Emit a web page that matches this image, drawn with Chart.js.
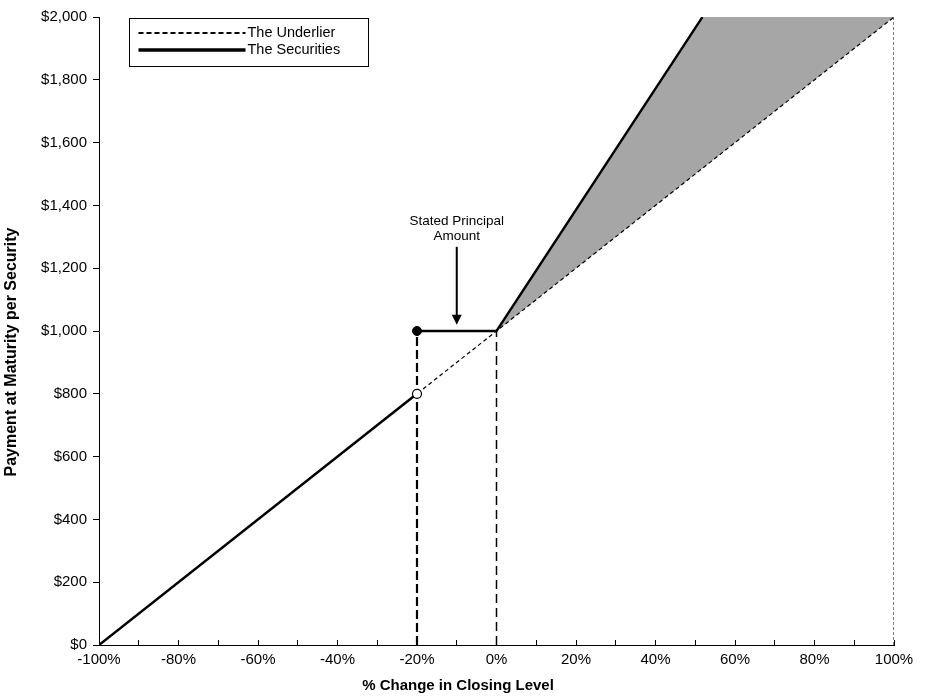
<!DOCTYPE html>
<html>
<head>
<meta charset="utf-8">
<script src="https://cdn.jsdelivr.net/npm/chart.js@4.4.1/dist/chart.umd.min.js"></script>
<style>
  html, body { margin: 0; padding: 0; background: #fff; }
  #wrap { width: 926px; height: 698px; position: relative; }
</style>
</head>
<body>
<div id="wrap"><canvas id="payoff"></canvas></div>
<script>
// payment at maturity vs % change in the underlier
const underlierX = [-100, 100];
const underlierY = [0, 2000];
const securitiesDownX = [-100, -20];
const securitiesDownY = [0, 800];
const securitiesUpX = [-20, 0, 51.8];
const securitiesUpY = [1000, 1000, 2000];
const gainTopX = [0, 51.8, 100];
const gainTopY = [1000, 2000, 2000];
const closedDot = [-20, 1000];
const openDot = [-20, 800];
const dropX = [-20, 0, 100];
const dropTop = [1000, 1000, 2000];
const noteLines = ['Stated Principal', 'Amount'];
const noteX = -10;
const noteY = [1350, 1303];
const arrowY = [1268, 1020];
const xLabelEvery = 20;
const xTickStep = 10;
const yTickStep = 200;

const FONT = '"Liberation Sans", Arial, sans-serif';
const pts = (xs, ys) => xs.map((x, i) => ({ x: x, y: ys[i] }));

const dropStyles = [
  { w: 2.2, dash: [9, 4] },
  { w: 1.5, dash: [9, 5] },
  { w: 1, dash: [3, 2] }
];

const datasets = [
  { label: 'closed', data: [{ x: closedDot[0], y: closedDot[1] }], showLine: false,
    pointRadius: 4.5, pointBackgroundColor: '#000', pointBorderColor: '#000', pointBorderWidth: 1 },
  { label: 'open', data: [{ x: openDot[0], y: openDot[1] }], showLine: false,
    pointRadius: 4.5, pointBackgroundColor: '#fff', pointBorderColor: '#000', pointBorderWidth: 1.2 },
  { label: 'The Securities', data: pts(securitiesDownX, securitiesDownY), showLine: true,
    borderColor: '#000', borderWidth: 2.5, pointRadius: 0 },
  { label: 'securities up', data: pts(securitiesUpX, securitiesUpY), showLine: true,
    borderColor: '#000', borderWidth: 2.3, pointRadius: 0 },
  { label: 'The Underlier', data: pts(underlierX, underlierY), showLine: true,
    borderColor: '#000', borderWidth: 1.2, borderDash: [4, 3], pointRadius: 0 }
];

dropX.forEach((x, i) => {
  datasets.push({ label: 'drop', data: pts([x, x], [0, dropTop[i]]), showLine: true,
    borderColor: '#000', borderWidth: dropStyles[i].w, borderDash: dropStyles[i].dash, pointRadius: 0 });
});

// grey wedge between the securities and the underlier (dataset 4)
datasets.push({ label: 'gain', data: pts(gainTopX, gainTopY), showLine: true,
  borderColor: 'rgba(0,0,0,0)', backgroundColor: '#a6a6a6', fill: 4, pointRadius: 0 });

const extras = {
  id: 'extras',
  afterDraw(chart) {
    const ctx = chart.ctx;
    const a = chart.chartArea;
    const xs = chart.scales.x, ys = chart.scales.y;
    ctx.save();
    ctx.fillStyle = '#000';
    ctx.strokeStyle = '#000';

    // note + arrow
    const nx = xs.getPixelForValue(noteX);
    ctx.font = '13.5px ' + FONT;
    ctx.textAlign = 'center';
    ctx.textBaseline = 'middle';
    noteLines.forEach((t, i) => ctx.fillText(t, nx, ys.getPixelForValue(noteY[i])));
    const top = ys.getPixelForValue(arrowY[0]);
    const tip = ys.getPixelForValue(arrowY[1]);
    ctx.lineWidth = 2;
    ctx.beginPath();
    ctx.moveTo(nx, top);
    ctx.lineTo(nx, tip - 9);
    ctx.stroke();
    ctx.beginPath();
    ctx.moveTo(nx - 5, tip - 10);
    ctx.lineTo(nx + 5, tip - 10);
    ctx.lineTo(nx, tip);
    ctx.closePath();
    ctx.fill();

    // legend box
    const bx = a.left + 30.5, by = a.top + 1.5, bw = 239, bh = 48;
    ctx.lineWidth = 1;
    ctx.setLineDash([]);
    ctx.strokeRect(bx, by, bw, bh);
    const items = [chart.data.datasets[4], chart.data.datasets[2]];
    ctx.font = '14.5px ' + FONT;
    ctx.textAlign = 'left';
    items.forEach((d, i) => {
      const y = by + 14.5 + i * 17;
      ctx.lineWidth = i === 0 ? 2 : 3.5;
      ctx.setLineDash(i === 0 ? [5, 3] : []);
      ctx.beginPath();
      ctx.moveTo(bx + 9, y);
      ctx.lineTo(bx + 116, y);
      ctx.stroke();
      ctx.fillText(d.label, bx + 118, y);
    });
    ctx.setLineDash([]);

    // axis titles
    ctx.font = 'bold 15px ' + FONT;
    ctx.textAlign = 'center';
    ctx.fillText('% Change in Closing Level', chart.width / 2 - 5, 686);
    ctx.translate(12, 352);
    ctx.rotate(-Math.PI / 2);
    ctx.font = 'bold 16px ' + FONT;
    ctx.fillText('Payment at Maturity per Security', 0, 0);
    ctx.restore();
  }
};

new Chart(document.getElementById('payoff'), {
  type: 'scatter',
  data: { datasets: datasets },
  plugins: [extras],
  options: {
    responsive: true,
    maintainAspectRatio: false,
    animation: false,
    events: [],
    layout: { padding: { top: 17, right: 32, left: 0, bottom: 0 } },
    plugins: { legend: { display: false }, tooltip: { enabled: false } },
    scales: {
      x: {
        type: 'linear', min: -100, max: 100,
        ticks: {
          stepSize: xTickStep, autoSkip: false, maxRotation: 0, padding: 11,
          color: '#000', font: { family: FONT, size: 15 },
          callback: v => (v % xLabelEvery === 0 ? v + '%' : '')
        },
        grid: { drawOnChartArea: false, tickLength: -5, tickColor: '#000', tickWidth: 1 },
        border: { color: '#000', width: 1 },
        afterFit: s => { s.height = 53; }
      },
      y: {
        min: 0, max: 2000,
        ticks: {
          stepSize: yTickStep, padding: 6,
          color: '#000', font: { family: FONT, size: 15 },
          callback: v => '$' + v.toLocaleString('en-US')
        },
        grid: { drawOnChartArea: false, tickLength: 6, tickColor: '#000', tickWidth: 1 },
        border: { color: '#000', width: 1 },
        afterFit: s => { s.width = 99; }
      }
    }
  }
});
</script>
</body>
</html>
